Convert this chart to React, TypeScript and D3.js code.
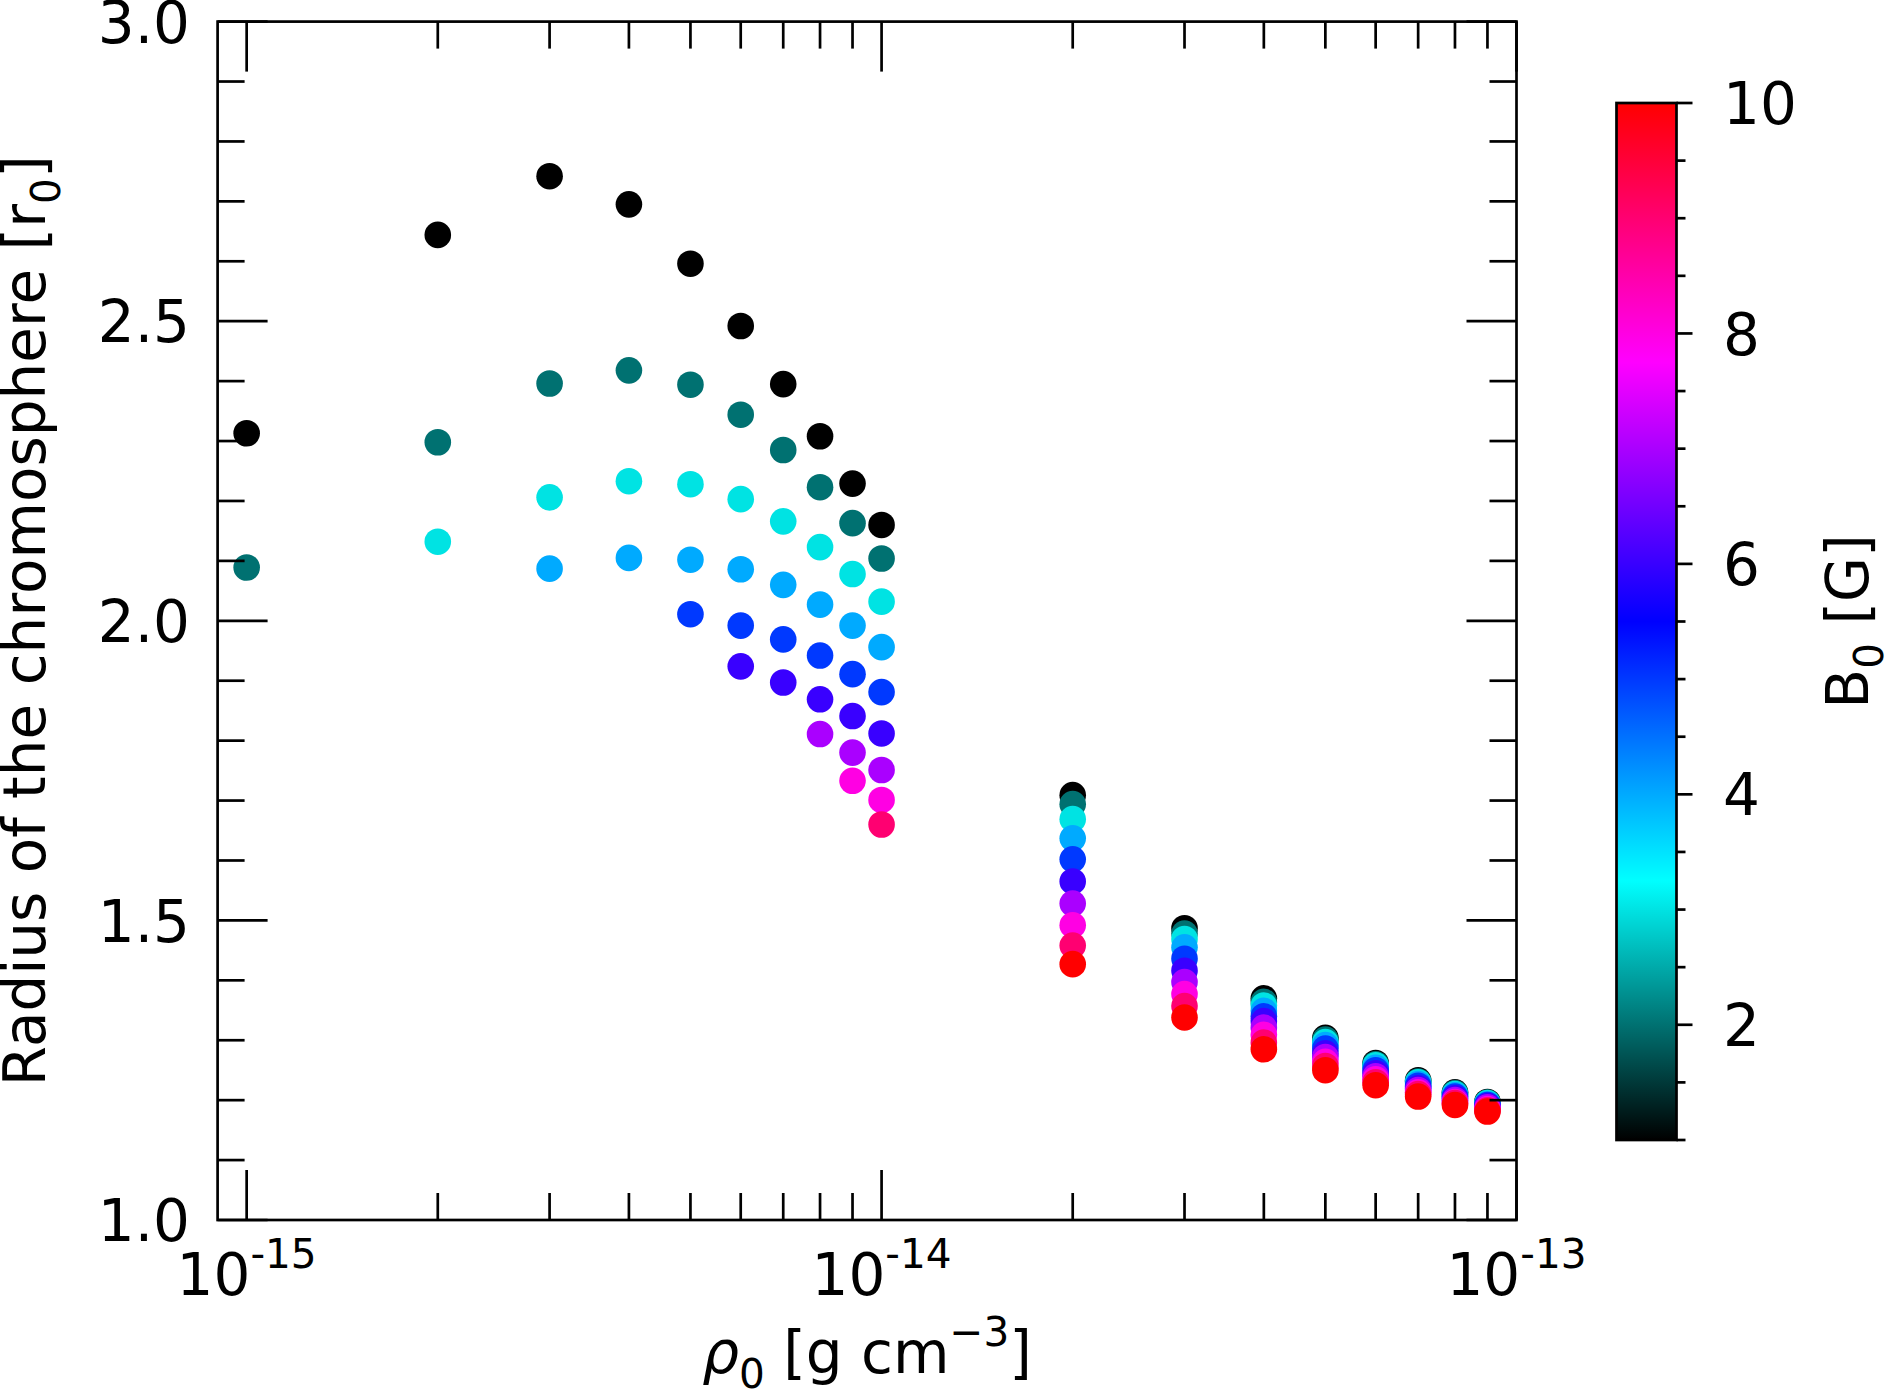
import React from "react";
import * as d3 from "d3";

// --- Data ---
// base density rho_0 [g cm^-3], one column of points per density
const densities = [
  1e-15, 2e-15, 3e-15, 4e-15, 5e-15, 6e-15, 7e-15, 8e-15, 9e-15,
  1e-14, 2e-14, 3e-14, 4e-14, 5e-14, 6e-14, 7e-14, 8e-14, 9e-14,
];

// field strength B_0 [G] of each series
const fieldStrengths = [1, 2, 3, 4, 5, 6, 7, 8, 9, 10];

// chromosphere radius [r_0] per field strength (null = no point)
const radiusB1 = [2.313, 2.644, 2.742, 2.695, 2.596, 2.492, 2.395, 2.308, 2.229, 2.16, 1.709, 1.487, 1.37, 1.304, 1.262, 1.233, 1.213, 1.197];
const radiusB2 = [2.089, 2.298, 2.396, 2.418, 2.394, 2.344, 2.285, 2.223, 2.163, 2.104, 1.694, 1.478, 1.364, 1.301, 1.26, 1.231, 1.212, 1.196];
const radiusB3 = [null, 2.132, 2.206, 2.233, 2.228, 2.203, 2.166, 2.123, 2.078, 2.032, 1.669, 1.469, 1.358, 1.297, 1.258, 1.23, 1.21, 1.195];
const radiusB4 = [null, null, 2.087, 2.105, 2.102, 2.086, 2.06, 2.027, 1.992, 1.956, 1.637, 1.455, 1.349, 1.292, 1.254, 1.227, 1.208, 1.193];
const radiusB5 = [null, null, null, null, 2.011, 1.992, 1.969, 1.942, 1.911, 1.881, 1.602, 1.436, 1.34, 1.286, 1.25, 1.224, 1.206, 1.192];
const radiusB6 = [null, null, null, null, null, 1.924, 1.897, 1.869, 1.841, 1.812, 1.565, 1.416, 1.332, 1.278, 1.245, 1.22, 1.203, 1.19];
const radiusB7 = [null, null, null, null, null, null, null, 1.811, 1.78, 1.751, 1.528, 1.397, 1.321, 1.272, 1.24, 1.217, 1.2, 1.188];
const radiusB8 = [null, null, null, null, null, null, null, null, 1.733, 1.701, 1.492, 1.377, 1.309, 1.264, 1.235, 1.213, 1.197, 1.185];
const radiusB9 = [null, null, null, null, null, null, null, null, null, 1.66, 1.458, 1.357, 1.296, 1.257, 1.23, 1.21, 1.195, 1.183];
const radiusB10 = [null, null, null, null, null, null, null, null, null, null, 1.427, 1.338, 1.285, 1.25, 1.225, 1.206, 1.192, 1.181];

const radiusSeries = [radiusB1, radiusB2, radiusB3, radiusB4, radiusB5, radiusB6, radiusB7, radiusB8, radiusB9, radiusB10];

// axis ranges
const xDomain = [9e-16, 1e-13];
const yDomain = [1.0, 3.0];
const bDomain = [1, 10];

// colormap nodes: black -> cyan -> blue -> magenta -> red
const cmapColors = ["#000000", "#00ffff", "#0000ff", "#ff00ff", "#ff0000"];

// --- Layout ---
const W = 1885;
const H = 1394;
const plot = { left: 217.6, right: 1516.5, top: 21.6, bottom: 1220 };
const cbar = { left: 1616.5, right: 1676.5, top: 103, bottom: 1140 };
const FONT = "DejaVu Sans, Verdana, sans-serif";
const FS = 58;
const LW = 2.7;
const MAJOR = 50;
const MINOR = 27;

const App: React.FC = () => {
  const x = d3.scaleLog().domain(xDomain).range([plot.left, plot.right]);
  const y = d3.scaleLinear().domain(yDomain).range([plot.bottom, plot.top]);
  const bScale = d3.scaleLinear().domain(bDomain).range([cbar.bottom, cbar.top]);

  const cmapStops = d3.range(cmapColors.length).map(
    (i) => bDomain[0] + (i * (bDomain[1] - bDomain[0])) / (cmapColors.length - 1)
  );
  const color = d3
    .scaleLinear<string>()
    .domain(cmapStops)
    .range(cmapColors)
    .interpolate(d3.interpolateRgb)
    .clamp(true);

  // ticks
  const xTicks = x.ticks().filter((t) => t >= 1e-15 * 0.999);
  const isDecade = (t: number) => Math.abs(Math.log10(t) - Math.round(Math.log10(t))) < 1e-6;
  const yTicks = y.ticks(20);
  const isYMajor = (t: number) => Math.abs(t * 2 - Math.round(t * 2)) < 1e-6;
  const bTicks = d3.range(bDomain[0], bDomain[1] + 0.01, 0.5);
  const isBMajor = (t: number) => t % 2 === 0;

  // points, drawn per field strength so higher B sits on top
  const points = fieldStrengths.flatMap((b, si) =>
    radiusSeries[si]
      .map((r, i) => ({ b, rho: densities[i], r }))
      .filter((d) => d.r !== null)
  );

  const gradStops = d3.range(0, 1.0001, 0.05).map((f) => ({
    offset: f,
    color: color(bDomain[0] + f * (bDomain[1] - bDomain[0])),
  }));

  return (
    <div style={{ position: "absolute", left: 0, top: 0, background: "#fff" }}>
      <svg width={W} height={H} style={{ display: "block", fontFamily: FONT }}>
        <defs>
          <linearGradient id="cbar-grad" x1="0" y1="1" x2="0" y2="0">
            {gradStops.map((s, i) => (
              <stop key={i} offset={s.offset} stopColor={s.color} />
            ))}
          </linearGradient>
        </defs>

        <rect x={0} y={0} width={W} height={H} fill="#fff" />

        {/* scatter */}
        <g>
          {points.map((d, i) => (
            <circle key={i} cx={x(d.rho)} cy={y(d.r as number)} r={13.3} fill={color(d.b)} />
          ))}
        </g>

        {/* x ticks (bottom and top, inward) */}
        <g stroke="#000" strokeWidth={LW}>
          {xTicks.map((t, i) => {
            const len = isDecade(t) ? MAJOR : MINOR;
            const xp = x(t);
            return (
              <g key={i}>
                <line x1={xp} x2={xp} y1={plot.bottom} y2={plot.bottom - len} />
                <line x1={xp} x2={xp} y1={plot.top} y2={plot.top + len} />
              </g>
            );
          })}
          {yTicks.map((t, i) => {
            const len = isYMajor(t) ? MAJOR : MINOR;
            const yp = y(t);
            return (
              <g key={i}>
                <line x1={plot.left} x2={plot.left + len} y1={yp} y2={yp} />
                <line x1={plot.right} x2={plot.right - len} y1={yp} y2={yp} />
              </g>
            );
          })}
        </g>

        {/* frame */}
        <rect
          x={plot.left}
          y={plot.top}
          width={plot.right - plot.left}
          height={plot.bottom - plot.top}
          fill="none"
          stroke="#000"
          strokeWidth={LW}
        />

        {/* y tick labels */}
        <g fontSize={FS} textAnchor="end" fill="#000">
          {yTicks.filter(isYMajor).map((t, i) => (
            <text key={i} x={190} y={y(t) + FS * 0.3645}>
              {d3.format(".1f")(t)}
            </text>
          ))}
        </g>

        {/* x tick labels: 10^n */}
        <g fontSize={FS} textAnchor="middle" fill="#000">
          {xTicks.filter(isDecade).map((t, i) => (
            <text key={i} x={x(t)} y={1295}>
              <tspan>10</tspan>
              <tspan fontSize={FS * 0.7} dy={-27}>
                {`-${Math.abs(Math.round(Math.log10(t)))}`}
              </tspan>
            </text>
          ))}
        </g>

        {/* axis labels */}
        <text x={(plot.left + plot.right) / 2} y={1373} fontSize={FS} textAnchor="middle">
          <tspan fontStyle="italic">ρ</tspan>
          <tspan fontSize={FS * 0.7} dy={15}>0</tspan>
          <tspan dy={-15}> [g cm</tspan>
          <tspan fontSize={FS * 0.7} dy={-27}>−3</tspan>
          <tspan dy={27}>]</tspan>
        </text>

        <text
          transform={`translate(45,${(plot.top + plot.bottom) / 2}) rotate(-90)`}
          fontSize={FS}
          textAnchor="middle"
        >
          <tspan>Radius of the chromosphere [r</tspan>
          <tspan fontSize={FS * 0.7} dy={15}>0</tspan>
          <tspan dy={-15}>]</tspan>
        </text>

        {/* colorbar */}
        <rect
          x={cbar.left}
          y={cbar.top}
          width={cbar.right - cbar.left}
          height={cbar.bottom - cbar.top}
          fill="url(#cbar-grad)"
          stroke="#000"
          strokeWidth={LW}
        />
        <g stroke="#000" strokeWidth={LW}>
          {bTicks.map((t, i) => (
            <line
              key={i}
              x1={cbar.right}
              x2={cbar.right + (isBMajor(t) ? 16 : 9)}
              y1={bScale(t)}
              y2={bScale(t)}
            />
          ))}
        </g>
        <g fontSize={FS} textAnchor="start" fill="#000">
          {bTicks.filter(isBMajor).map((t, i) => (
            <text key={i} x={1723} y={bScale(t) + FS * 0.3645}>
              {t}
            </text>
          ))}
        </g>
        <text
          transform={`translate(1868,${(cbar.top + cbar.bottom) / 2}) rotate(-90)`}
          fontSize={FS}
          textAnchor="middle"
        >
          <tspan>B</tspan>
          <tspan fontSize={FS * 0.7} dy={15}>0</tspan>
          <tspan dy={-15}> [G]</tspan>
        </text>
      </svg>
    </div>
  );
};

export default App;
